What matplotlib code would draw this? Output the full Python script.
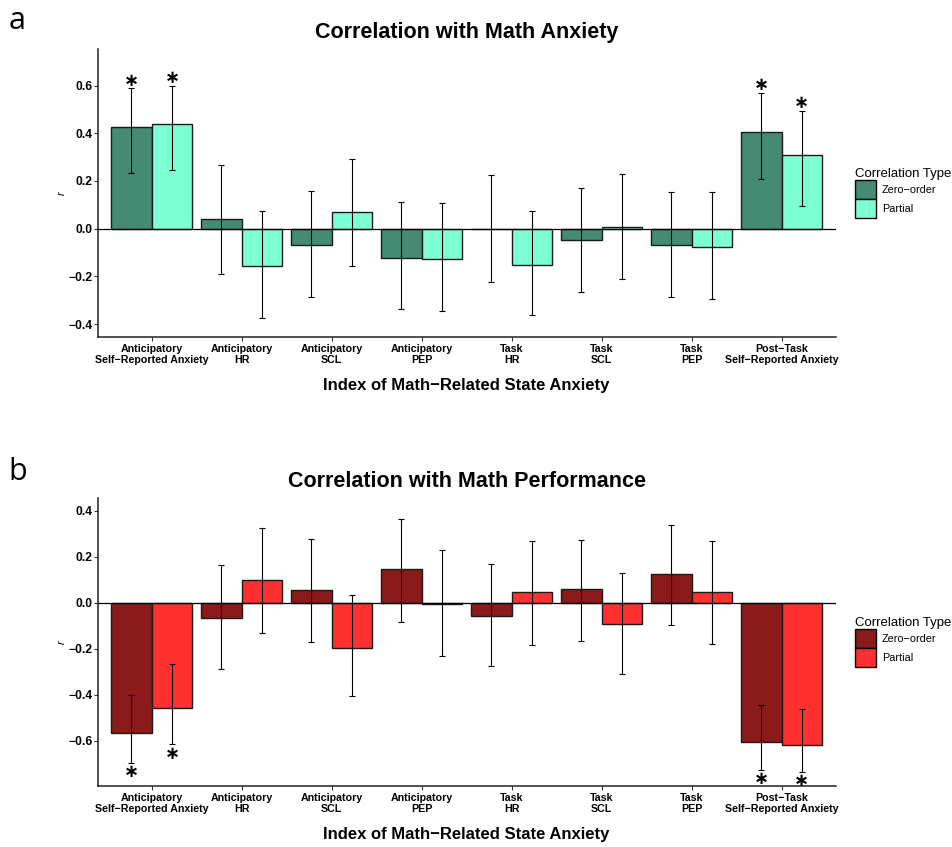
import matplotlib
matplotlib.use('Agg')
import matplotlib.pyplot as plt
from matplotlib.patches import Patch
import numpy as np

plt.rcParams['font.family'] = ['Liberation Sans', 'DejaVu Sans']

M = '\u2212'
STAR = '\u2217'
categories = ['Anticipatory\nSelf' + M + 'Reported Anxiety', 'Anticipatory\nHR', 'Anticipatory\nSCL',
              'Anticipatory\nPEP', 'Task\nHR', 'Task\nSCL', 'Task\nPEP',
              'Post' + M + 'Task\nSelf' + M + 'Reported Anxiety']
types = ['Zero' + M + 'order', 'Partial']

# Panel a: correlation with math anxiety
anx_zero = [0.426, 0.039, -0.067, -0.122, -0.003, -0.049, -0.068, 0.405]
anx_zero_lo = [0.232, -0.190, -0.286, -0.338, -0.222, -0.267, -0.286, 0.207]
anx_zero_hi = [0.589, 0.266, 0.159, 0.111, 0.224, 0.171, 0.155, 0.570]
anx_part = [0.440, -0.156, 0.071, -0.127, -0.152, 0.008, -0.075, 0.309]
anx_part_lo = [0.245, -0.374, -0.158, -0.347, -0.363, -0.212, -0.296, 0.097]
anx_part_hi = [0.600, 0.075, 0.293, 0.106, 0.075, 0.231, 0.155, 0.495]
anx_sig_zero = [True, False, False, False, False, False, False, True]
anx_sig_part = [True, False, False, False, False, False, False, True]

# Panel b: correlation with math performance
perf_zero = [-0.568, -0.068, 0.057, 0.148, -0.057, 0.058, 0.126, -0.604]
perf_zero_lo = [-0.698, -0.290, -0.170, -0.083, -0.277, -0.165, -0.098, -0.726]
perf_zero_hi = [-0.403, 0.163, 0.277, 0.362, 0.167, 0.273, 0.339, -0.446]
perf_part = [-0.458, 0.100, -0.196, -0.005, 0.045, -0.094, 0.046, -0.620]
perf_part_lo = [-0.616, -0.133, -0.404, -0.233, -0.183, -0.310, -0.181, -0.737]
perf_part_hi = [-0.267, 0.323, 0.033, 0.228, 0.268, 0.130, 0.270, -0.464]
perf_sig_zero = [True, False, False, False, False, False, False, True]
perf_sig_part = [True, False, False, False, False, False, False, True]


def panel(ax, zero, zlo, zhi, part, plo, phi, szero, spart, colors, title, ylim, yticks, stars_up):
    x = np.arange(1, len(categories) + 1)
    w = 0.45
    series = [(x - w / 2, zero, zlo, zhi, szero, colors[0]),
              (x + w / 2, part, plo, phi, spart, colors[1])]
    for xs, v, lo, hi, sig, c in series:
        ax.bar(xs, v, width=w, color=c, edgecolor='#1a1a1a', linewidth=1.0, zorder=2)
    ax.axhline(0, color='black', linewidth=0.9, zorder=3)
    for xs, v, lo, hi, sig, c in series:
        v = np.array(v); lo = np.array(lo); hi = np.array(hi)
        ax.errorbar(xs, v, yerr=[v - lo, hi - v], fmt='none', ecolor='black',
                    elinewidth=0.8, capsize=2.4, capthick=0.8, zorder=4)
        # asterisks for significant correlations
        for xi, l, h, s in zip(xs, lo, hi, sig):
            if s:
                if stars_up:
                    ax.annotate(STAR, xy=(xi, h), xytext=(0, 1.8), textcoords='offset points',
                                ha='center', va='baseline', fontsize=13, fontweight='bold',
                                family='DejaVu Sans', zorder=5)
                else:
                    ax.annotate(STAR, xy=(xi, l), xytext=(0, -10.2), textcoords='offset points',
                                ha='center', va='baseline', fontsize=13, fontweight='bold',
                                family='DejaVu Sans', zorder=5)
    ax.set_xlim(0.4, 8.6)
    ax.set_ylim(*ylim)
    ax.set_yticks(yticks)
    ax.set_yticklabels(['%.1f' % t if t >= 0 else M + '%.1f' % abs(t) for t in yticks])
    ax.set_xticks(x)
    ax.set_xticklabels(categories, fontweight='bold', fontsize=7.7, linespacing=1.15)
    for lab in ax.get_yticklabels():
        lab.set_fontweight('bold')
        lab.set_fontsize(8.7)
    for s in ['top', 'right']:
        ax.spines[s].set_visible(False)
    for s in ['left', 'bottom']:
        ax.spines[s].set_linewidth(1.1)
        ax.spines[s].set_color('#222222')
    ax.tick_params(length=3, width=0.8, color='#333333')
    ax.tick_params(axis='x', pad=2)
    ax.tick_params(axis='y', pad=0.8)
    ax.set_title(title, fontweight='bold', fontsize=15.5, pad=8)
    ax.set_xlabel('Index of Math' + M + 'Related State Anxiety', fontweight='bold', fontsize=12, labelpad=9)
    ax.set_ylabel('r', fontstyle='italic', fontsize=8, labelpad=1)
    handles = [Patch(facecolor=colors[0], edgecolor='black', linewidth=1.0),
               Patch(facecolor=colors[1], edgecolor='black', linewidth=1.0)]
    leg = ax.legend(handles, types, title='Correlation Type', loc='center left',
                    bbox_to_anchor=(1.021, 0.5), frameon=False, fontsize=7.8,
                    title_fontsize=9.5, handlelength=1.85, handleheight=2.3,
                    labelspacing=0.0, handletextpad=0.6, borderaxespad=0)
    leg._legend_box.align = 'left'


fig = plt.figure(figsize=(9.52, 8.47), dpi=100)
ax1 = fig.add_axes([0.1026, 0.6021, 0.7752, 0.3397])
ax2 = fig.add_axes([0.1026, 0.0720, 0.7752, 0.3397])

panel(ax1, anx_zero, anx_zero_lo, anx_zero_hi, anx_part, anx_part_lo, anx_part_hi,
      anx_sig_zero, anx_sig_part, ['#458B74', '#7FFFD4'], 'Correlation with Math Anxiety',
      (-0.454, 0.752), [-0.4, -0.2, 0.0, 0.2, 0.4, 0.6], True)
panel(ax2, perf_zero, perf_zero_lo, perf_zero_hi, perf_part, perf_part_lo, perf_part_hi,
      perf_sig_zero, perf_sig_part, ['#8B1A1A', '#FF3030'], 'Correlation with Math Performance',
      (-0.797, 0.454), [-0.6, -0.4, -0.2, 0.0, 0.2, 0.4], False)

fig.text(0.009, 0.975, 'a', fontsize=22, family=['Open Sans', 'DejaVu Sans'], va='center')
fig.text(0.009, 0.443, 'b', fontsize=22, family=['Open Sans', 'DejaVu Sans'], va='center')

fig.savefig('out.png', dpi=100)
